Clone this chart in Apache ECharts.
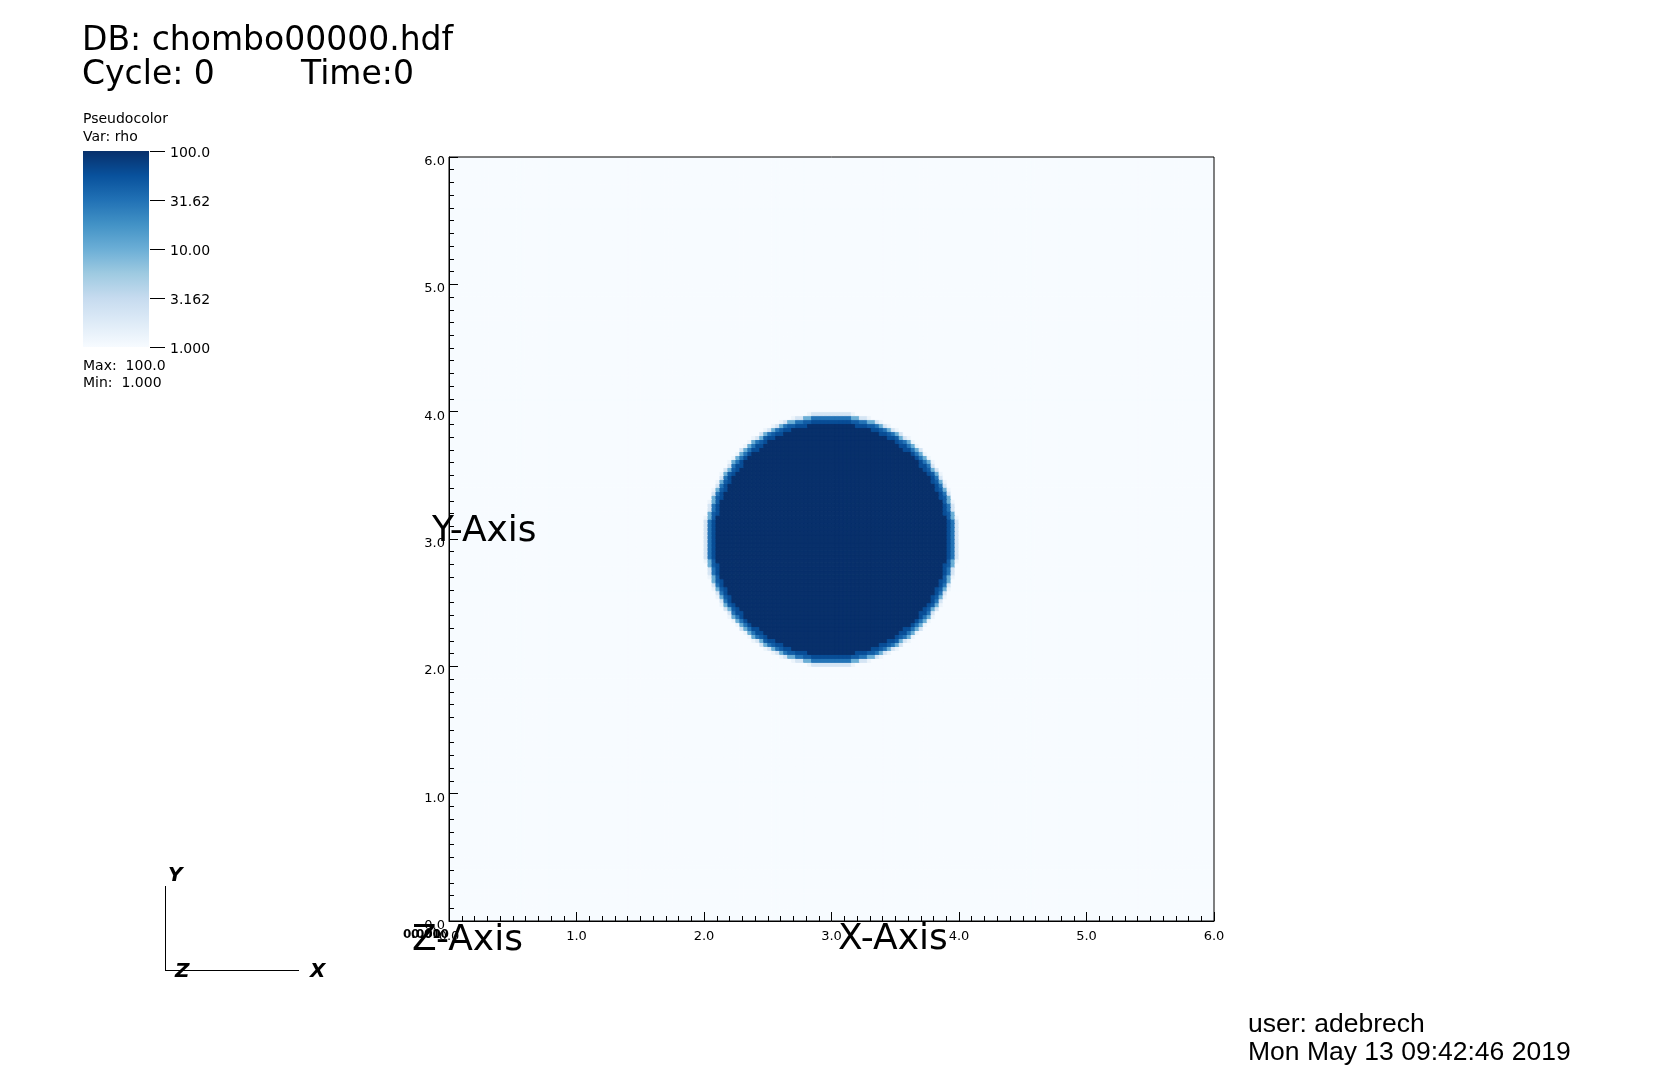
<!DOCTYPE html>
<html><head><meta charset="utf-8">
<script src="https://cdn.jsdelivr.net/npm/echarts@6/dist/echarts.min.js"></script>
<style>html,body{margin:0;padding:0;background:#fff;}#c{width:1664px;height:1080px;}</style>
</head><body><div id="c"></div>
<script>
// ---- data ----
const xTickLabels = ['0.0', '1.0', '2.0', '3.0', '4.0', '5.0', '6.0'];
const yTickLabels = ['0.0', '1.0', '2.0', '3.0', '4.0', '5.0', '6.0'];
const colourbarTickLabels = ['1.000', '3.162', '10.00', '31.62', '100.0'];
const colourbarTickLogValues = [0.0, 0.5, 1.0, 1.5, 2.0];
const domainMin = 0.0;
const domainMax = 6.0;
const cellsPerSide = 192;
const circleCentre = [3.0, 3.0];
// radial profile of rho (cell-centre distance upper bound -> rho)
const profileRadius = [0.91, 0.935, 0.95, 0.965, 0.98, 0.995, 1.005];
const profileRho = [100.0, 60.0, 45.0, 30.0, 10.0, 2.2, 1.3];
const backgroundRho = 1.0;
const rhoMax = 100.0;
const rhoMin = 1.0;
const bluesStops = ['#f7fbff', '#deebf7', '#c6dbef', '#9ecae1', '#6baed6', '#4292c6', '#2171b5', '#08519c', '#08306b'];

// ---- build cell table ----
const cellSize = (domainMax - domainMin) / cellsPerSide;
function lookupRho(r) {
  for (let k = 0; k < profileRadius.length; k++) {
    if (r <= profileRadius[k]) return profileRho[k];
  }
  return backgroundRho;
}
const cells = [];
for (let j = 0; j < cellsPerSide; j++) {
  for (let i = 0; i < cellsPerSide; i++) {
    const x0 = domainMin + i * cellSize;
    const y0 = domainMin + j * cellSize;
    const r = Math.hypot(x0 + cellSize / 2 - circleCentre[0], y0 + cellSize / 2 - circleCentre[1]);
    const rho = lookupRho(r);
    cells.push([x0, y0, rho, Math.log10(rho)]);
  }
}

const chart = echarts.init(document.getElementById('c'), null, {renderer: 'canvas'});
const FONT = '"DejaVu Sans", sans-serif';
const LIB = '"Liberation Sans", sans-serif';
function txt(text, x, baseline, size, opts) {
  opts = opts || {};
  const fam = opts.family || FONT;
  const weight = opts.weight || 'normal';
  const styleF = opts.italic ? 'italic ' : '';
  const mid = opts.mid !== undefined ? opts.mid : (fam === LIB ? 0.38 : 0.18);
  return {
    type: 'text', x: x, y: baseline - mid * size, z: 100,
    style: {text: text, font: styleF + weight + ' ' + size + 'px ' + fam, fill: '#000', verticalAlign: 'middle', align: 'left'}
  };
}

const axisCommon = {
  type: 'value', min: domainMin, max: domainMax, interval: 1, z: 10,
  axisLine: {show: true, onZero: false, lineStyle: {color: '#000', width: 1}},
  axisTick: {show: true, inside: true, length: 9, lineStyle: {color: '#000', width: 1}},
  minorTick: {show: true, splitNumber: 10, length: 5, lineStyle: {color: '#000', width: 1}},
  splitLine: {show: false}, minorSplitLine: {show: false}
};

chart.setOption({
  animation: false,
  backgroundColor: '#ffffff',
  grid: [
    {left: 449, top: 157, width: 765, height: 764, show: true, borderColor: '#000', borderWidth: 1, backgroundColor: 'rgba(0,0,0,0)', z: 10, outerBoundsMode: 'none', containLabel: false},
    {left: 83, top: 151, width: 66, height: 196, show: false, outerBoundsMode: 'none', containLabel: false}
  ],
  xAxis: [
    Object.assign({}, axisCommon, {gridIndex: 0, position: 'bottom',
      axisLabel: {show: true, margin: 9, fontSize: 13, fontFamily: FONT, color: '#000',
        formatter: (v) => xTickLabels[Math.round(v - domainMin)]}}),
    {type: 'value', gridIndex: 1, min: 0, max: 1, show: false}
  ],
  yAxis: [
    Object.assign({}, axisCommon, {gridIndex: 0, position: 'left',
      axisLabel: {show: true, margin: 4, fontSize: 13, fontFamily: FONT, color: '#000',
        verticalAlign: 'top', lineHeight: 9,
        formatter: (v) => yTickLabels[Math.round(v - domainMin)]}}),
    {type: 'value', gridIndex: 1, min: 0, max: 2, interval: 0.5, position: 'right', z: 10,
      axisLine: {show: false},
      axisTick: {show: false},
      splitLine: {show: false},
      axisLabel: {show: true, margin: 21, fontSize: 14, fontFamily: FONT, color: '#000',
        verticalAlign: 'top', lineHeight: 4,
        formatter: (v) => colourbarTickLabels[Math.round(v / 0.5)]}}
  ],
  visualMap: [{
    type: 'continuous', show: false, seriesIndex: 0, dimension: 3,
    min: Math.log10(rhoMin), max: Math.log10(rhoMax), inRange: {color: bluesStops}
  }],
  series: [
    {
      type: 'custom', xAxisIndex: 0, yAxisIndex: 0, z: 1, clip: true,
      progressive: 0, large: false,
      encode: {x: 0, y: 1},
      data: cells,
      renderItem: function (params, api) {
        const p = api.coord([api.value(0), api.value(1) + cellSize]);
        const s = api.size([cellSize, cellSize]);
        const c = api.visual('color');
        return {type: 'rect', shape: {x: p[0], y: p[1], width: s[0], height: s[1]},
          style: {fill: c, stroke: c, lineWidth: 1}};
      }
    },
    {
      type: 'custom', xAxisIndex: 1, yAxisIndex: 1, z: 1,
      encode: {x: [0, 1], y: [2, 3]},
      data: [[0, 1, Math.log10(rhoMin), Math.log10(rhoMax)]],
      renderItem: function (params, api) {
        const p0 = api.coord([api.value(0), api.value(2)]);
        const p1 = api.coord([api.value(1), api.value(3)]);
        const stops = bluesStops.map((c, k) => ({offset: k / (bluesStops.length - 1), color: c}));
        return {type: 'rect', shape: {x: p0[0], y: p1[1], width: p1[0] - p0[0], height: p0[1] - p1[1]},
          style: {fill: new echarts.graphic.LinearGradient(0, 1, 0, 0, stops)}};
      }
    },
    {
      type: 'custom', xAxisIndex: 1, yAxisIndex: 1, z: 3,
      encode: {x: 0, y: 1},
      data: colourbarTickLogValues.map((v) => [1, v]),
      renderItem: function (params, api) {
        const p = api.coord([api.value(0), api.value(1)]);
        const y = Math.round(p[1]) + 0.5;
        return {type: 'line', shape: {x1: p[0] + 1, y1: y, x2: p[0] + 16, y2: y},
          style: {stroke: '#000', lineWidth: 1}};
      }
    }
  ],
  graphic: [
    txt('DB: chombo00000.hdf', 82, 47, 33),
    txt('Cycle: 0', 82, 81, 33),
    txt('Time:0', 301, 81, 33),
    txt('Pseudocolor', 83, 122, 14),
    txt('Var: rho', 83, 140, 14),
    txt('Max:  ' + rhoMax.toFixed(1), 83, 369, 14),
    txt('Min:  ' + rhoMin.toFixed(3), 83, 386, 14),
    txt('Y-Axis', 432, 538, 36),
    txt('X-Axis', 838, 946, 36),
    txt('Z-Axis', 412, 947, 36),
    txt('0.000', 403, 937, 12, {weight: 'bold'}),
    txt('0.010', 411, 937, 12, {weight: 'bold'}),
    txt('user: adebrech', 1248, 1035, 26.5, {family: LIB}),
    txt('Mon May 13 09:42:46 2019', 1248, 1063, 26.5, {family: LIB}),
    txt('Y', 168, 879, 20, {weight: 'bold', italic: true}),
    txt('Z', 175, 975, 20, {weight: 'bold', italic: true}),
    txt('X', 310, 975, 20, {weight: 'bold', italic: true}),
    {type: 'line', z: 100, shape: {x1: 165.5, y1: 886, x2: 165.5, y2: 971}, style: {stroke: '#000', lineWidth: 1}},
    {type: 'line', z: 100, shape: {x1: 165, y1: 970.5, x2: 299, y2: 970.5}, style: {stroke: '#000', lineWidth: 1}}
  ]
});
</script></body></html>
